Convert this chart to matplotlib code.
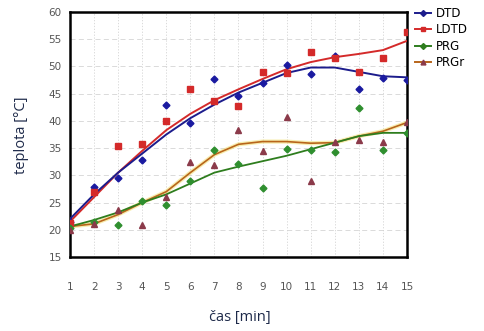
import matplotlib
matplotlib.use('Agg')
import matplotlib.pyplot as plt
from matplotlib.lines import Line2D

# time [min]
cas = [1, 2, 3, 4, 5, 6, 7, 8, 9, 10, 11, 12, 13, 14, 15]

dtd_x = [1, 2, 3, 4, 5, 6, 7, 8, 9, 10, 11, 12, 13, 14, 15]
dtd_y = [21.5, 27.8, 29.6, 32.9, 42.9, 39.6, 47.7, 44.5, 46.9, 50.3, 48.6, 52.0, 45.8, 47.8, 47.6]
ldtd_x = [1, 2, 3, 4, 5, 6, 7, 8, 9, 10, 11, 12, 13, 14, 15]
ldtd_y = [21.2, 26.9, 35.3, 35.7, 39.9, 45.8, 43.6, 42.7, 49.0, 48.8, 52.6, 51.5, 49.0, 51.5, 56.3]
prg_x = [1, 2, 3, 4, 5, 6, 7, 8, 9, 10, 11, 12, 13, 14, 15]
prg_y = [20.3, 21.5, 20.8, 25.2, 24.5, 28.9, 34.7, 32.0, 27.6, 34.8, 34.7, 34.3, 42.3, 34.6, 37.8]
prgr_x = [1, 2, 3, 4, 5, 6, 7, 8, 9, 10, 11, 12, 13, 14, 15]
prgr_y = [20.0, 21.0, 23.7, 20.8, 26.0, 32.4, 31.9, 38.3, 34.4, 40.8, 28.9, 36.2, 36.4, 36.2, 39.8]

# trend lines (read at each minute)
dtd_trend = [22.0, 26.5, 30.5, 34.0, 37.5, 40.5, 43.0, 45.2, 47.0, 48.8, 49.8, 49.8, 49.0, 48.2, 48.0]
ldtd_trend = [21.5, 26.0, 30.5, 34.5, 38.3, 41.3, 43.8, 45.8, 47.7, 49.5, 50.8, 51.7, 52.3, 53.0, 54.7]
prg_trend = [20.6, 21.8, 23.2, 25.0, 26.5, 28.5, 30.5, 31.6, 32.6, 33.6, 34.8, 36.0, 37.2, 37.8, 37.8]
prgr_trend = [20.6, 21.1, 22.8, 25.0, 27.0, 30.5, 33.8, 35.7, 36.2, 36.2, 35.9, 36.0, 37.2, 38.1, 39.7]

yticks = [15, 20, 25, 30, 35, 40, 45, 50, 55, 60]

fig = plt.figure(figsize=(4.84, 3.31), dpi=100)
ax = fig.add_axes([70/484, 1-257/331, (407-70)/484, (257-12)/331])

# grid
for v in yticks:
    ax.axhline(v, color='#d4d4d4', lw=0.6, ls=(0, (6, 4)), zorder=0)
for c in cas:
    ax.axvline(c, color='#d4d4d4', lw=0.6, ls=(0, (1.5, 2)), zorder=0)

# trend lines
ax.plot(cas, prgr_trend, color='#f3e27a', lw=3.0, alpha=0.6, zorder=2)
ax.plot(cas, prgr_trend, color='#b8651b', lw=1.2, zorder=3)
ax.plot(cas, prg_trend, color='#2e7d1e', lw=1.3, zorder=3)
ax.plot(cas, ldtd_trend, color='#d42a2a', lw=1.4, zorder=3)
ax.plot(cas, dtd_trend, color='#1c1c8c', lw=1.4, zorder=3)

# points
ax.plot(dtd_x, dtd_y, ls='none', marker='D', ms=3.5, color='#1a1aa0', zorder=4)
ax.plot(ldtd_x, ldtd_y, ls='none', marker='s', ms=4.5, color='#d42a2a', zorder=4)
ax.plot(prg_x, prg_y, ls='none', marker='D', ms=3.5, color='#2f8f2f', zorder=4)
ax.plot(prgr_x, prgr_y, ls='none', marker='^', ms=4.5, color='#8b3a4a', zorder=4)

ax.set_xlim(1, 15)
ax.set_ylim(15, 60)
ax.set_xticks(cas)
ax.set_yticks(yticks)
ax.tick_params(length=0, labelsize=7.5, labelcolor='#555555')
ax.tick_params(axis='x', pad=18)
ax.tick_params(axis='y', pad=6)
for s in ax.spines.values():
    s.set_linewidth(1.8)
    s.set_color('black')

fig.text(22/484, 1-135/331, 'teplota [°C]', rotation=90, ha='center', va='center',
         fontsize=10.5, color='#1e2a4a', family='Open Sans')
fig.text(240/484, 1-318/331, 'čas [min]', ha='center', va='center',
         fontsize=10.5, color='#1e2a4a', family='Open Sans')

handles = [
    Line2D([], [], color='#1c1c8c', marker='D', ms=3, lw=1.4),
    Line2D([], [], color='#d42a2a', marker='s', ms=3.5, lw=1.4),
    Line2D([], [], color='#2e7d1e', marker='D', ms=3, lw=1.4),
    Line2D([], [], color='#b8651b', marker='^', ms=3.5, lw=1.4, mfc='#8b3a4a', mec='#8b3a4a'),
]
fig.legend(handles, ['DTD', 'LDTD', 'PRG', 'PRGr'], loc='upper left',
           bbox_to_anchor=(410/484, 1-2/331), frameon=False, fontsize=8.5,
           handlelength=1.4, handletextpad=0.4, labelspacing=0.3, borderaxespad=0)

fig.savefig('out.png', dpi=100)
